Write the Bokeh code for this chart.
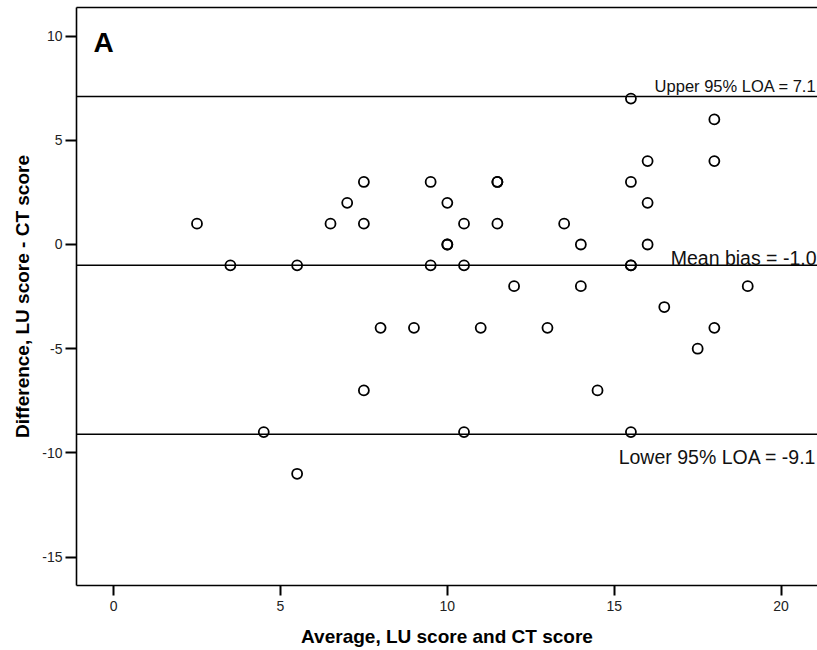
from bokeh.plotting import figure
from bokeh.models import (Range1d, Span, Label, LinearAxis, FixedTicker, ColumnDataSource,
                          CustomJSTickFormatter)
from bokeh.embed import file_html
from bokeh.resources import INLINE

# Bland-Altman data: average of LU and CT scores vs. their difference
average = [2.5, 3.5, 4.5, 5.5, 5.5, 6.5, 7.0, 7.5, 7.5, 7.5, 8.0, 9.0,
           9.5, 9.5, 10.0, 10.0, 10.0, 10.5, 10.5, 10.5, 11.0, 11.5, 11.5, 11.5,
           12.0, 13.0, 13.5, 14.0, 14.0, 14.5, 15.5, 15.5, 15.5, 15.5, 15.5,
           16.0, 16.0, 16.0, 16.5, 17.5, 18.0, 18.0, 18.0, 19.0]
difference = [1, -1, -9, -1, -11, 1, 2, 3, 1, -7, -4, -4,
              3, -1, 2, 0, 0, 1, -1, -9, -4, 3, 3, 1,
              -2, -4, 1, 0, -2, -7, 7, 3, -1, -1, -9,
              4, 2, 0, -3, -5, 6, 4, -4, -2]

mean_bias = -1.0
upper_loa = 7.1
lower_loa = -9.1

x_ticks = [0, 5, 10, 15, 20]
y_ticks = [-15, -10, -5, 0, 5, 10]

FONT = "Liberation Sans"
X_START, X_END = -1.11, 21.09
Y_START, Y_END = -16.36, 11.37

src = ColumnDataSource(data=dict(x=average, y=difference))

p = figure(width=817, height=650, output_backend="svg", toolbar_location=None,
           x_range=Range1d(X_START, X_END), y_range=Range1d(Y_START, Y_END),
           min_border_left=76, min_border_right=0, min_border_top=7, min_border_bottom=65,
           background_fill_color="white", border_fill_color="white")
p.outline_line_color = None
p.grid.visible = False

# plain ASCII hyphen for negative tick labels
hyphen_fmt = CustomJSTickFormatter(code="return tick.toString();")

# left and bottom axes
for ax in (p.xaxis[0], p.yaxis[0]):
    ax.axis_line_width = 1.6
    ax.axis_line_color = "black"
    ax.major_tick_line_width = 2
    ax.major_tick_line_color = "black"
    ax.major_tick_in = 0
    ax.minor_tick_line_color = None
    ax.formatter = hyphen_fmt
    ax.major_label_text_font = FONT
    ax.major_label_text_font_size = "14px"
    ax.major_label_text_color = "#222222"
    ax.axis_label_text_font = FONT
    ax.axis_label_text_font_style = "bold"
    ax.axis_label_text_font_size = "19px"
    ax.axis_label_text_color = "black"

p.xaxis[0].ticker = FixedTicker(ticks=x_ticks)
p.xaxis[0].major_tick_out = 10
p.xaxis[0].major_label_standoff = 5
p.xaxis[0].axis_label = "Average, LU score and CT score"
p.xaxis[0].axis_label_standoff = 12

p.yaxis[0].ticker = FixedTicker(ticks=y_ticks)
p.yaxis[0].major_tick_out = 11
p.yaxis[0].major_label_standoff = 3
p.yaxis[0].axis_label = "Difference, LU score - CT score"
p.yaxis[0].axis_label_standoff = 6

# plain top border line
top = LinearAxis(ticker=FixedTicker(ticks=[]), axis_line_width=1.4, axis_line_color="black",
                 major_tick_out=0, major_tick_in=0, minor_tick_out=0, minor_tick_in=0,
                 major_label_standoff=0, major_label_text_font_size="0px")
p.add_layout(top, "above")

# mean bias and limits of agreement
for loc in (upper_loa, mean_bias, lower_loa):
    p.add_layout(Span(location=loc, dimension="width", line_color="black", line_width=1.5))

p.scatter("x", "y", source=src, marker="circle", size=10, line_color="black",
          line_width=1.8, fill_color=None)

label_kw = dict(x=X_END, x_offset=-1, text_align="right", text_baseline="alphabetic",
                text_font=FONT, text_color="#111111")
p.add_layout(Label(y=upper_loa, y_offset=11, text=f"Upper 95% LOA = {upper_loa:.1f}",
                   text_font_size="16.5px", **label_kw))
p.add_layout(Label(y=mean_bias, y_offset=7, text=f"Mean bias = {mean_bias:.1f}",
                   text_font_size="19.5px", **label_kw))
p.add_layout(Label(y=lower_loa, y_offset=-23, text=f"Lower 95% LOA = {lower_loa:.1f}",
                   text_font_size="19.5px", **label_kw))

# panel letter
p.add_layout(Label(x=-0.6, y=9.7, text="A", text_font=FONT, text_font_style="bold",
                   text_font_size="28px", text_baseline="alphabetic", text_color="black"))

open("out.html", "w").write(file_html(p, INLINE))
